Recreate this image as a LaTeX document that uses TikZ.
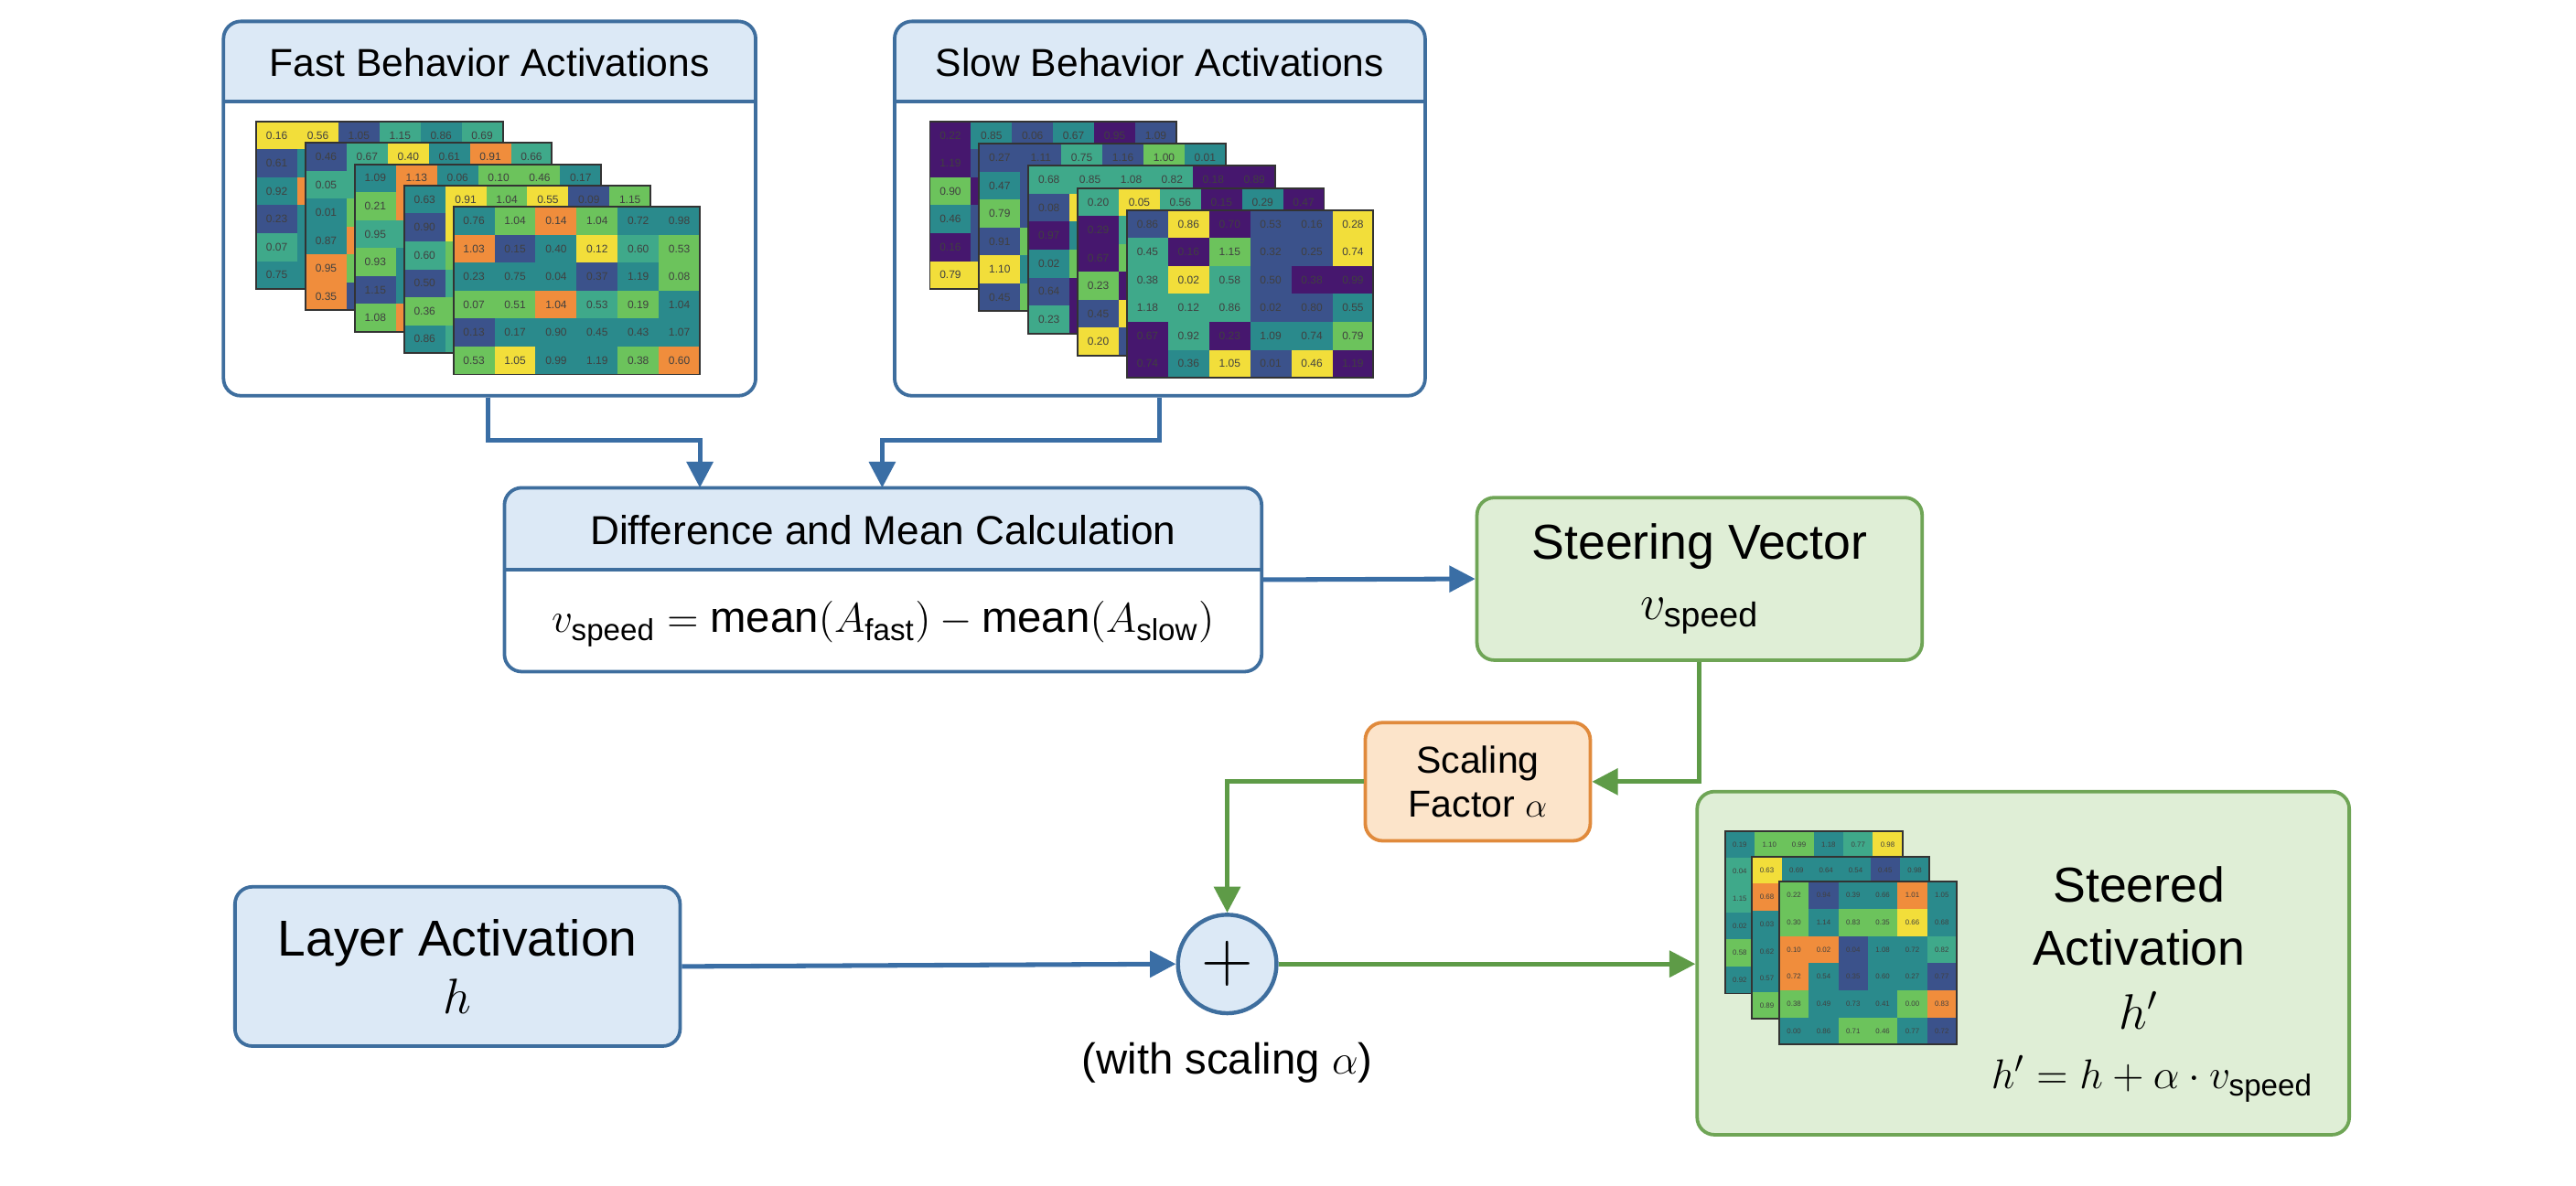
\documentclass[tikz,border=0pt]{standalone}
\usepackage{fontspec}
\setmainfont{Liberation Sans}
\usetikzlibrary{arrows.meta,positioning}

\definecolor{bluebd}{HTML}{3E6E9E}
\definecolor{bluefl}{HTML}{DCE9F6}
\definecolor{greenbd}{HTML}{6FA556}
\definecolor{greenfl}{HTML}{DFEED6}
\definecolor{orangebd}{HTML}{E08A3C}
\definecolor{orangefl}{HTML}{FCE4CA}
\definecolor{arrblue}{HTML}{3A6EA5}
\definecolor{arrgreen}{HTML}{5E9B47}
\definecolor{hmP}{HTML}{46176E}
\definecolor{hmB}{HTML}{3B528B}
\definecolor{hmT}{HTML}{2A8A8C}
\definecolor{hmC}{HTML}{3FA98A}
\definecolor{hmG}{HTML}{6CC35C}
\definecolor{hmY}{HTML}{F2DE3A}
\definecolor{hmO}{HTML}{F08D3C}

\pgfmathdeclarerandomlist{fastlist}{{hmB}{hmT}{hmT}{hmC}{hmC}{hmG}{hmG}{hmY}{hmO}{hmT}}
\pgfmathdeclarerandomlist{slowlist}{{hmP}{hmP}{hmP}{hmB}{hmB}{hmT}{hmC}{hmG}{hmY}}

\tikzset{
  box/.style={draw, rounded corners=6pt, line width=1.2pt},
  bluebox/.style={box, draw=bluebd},
  greenbox/.style={box, draw=greenbd, fill=greenfl},
  orangebox/.style={box, draw=orangebd, fill=orangefl},
  flow/.style={line width=1.6pt, -{Triangle[length=9pt,width=9pt]}},
  cellnum/.style={text=black!75, inner sep=0pt},
}

% one 6x6 heatmap layer: x, y, cell width, cell height, colour list, font size, front layer?
\newcommand\heatlayer[7]{%
  \foreach \r in {0,...,5}{\foreach \c in {0,...,5}{
    \pgfmathrandomitem{\hc}{#5}
    \pgfmathtruncatemacro\hn{rnd*120}
    \pgfmathtruncatemacro\hi{\hn/100}
    \pgfmathtruncatemacro\hf{mod(\hn,100)}
    \pgfmathtruncatemacro\hshow{or(#7==1,or(\r==0,\c==0))}
    \fill[\hc] ({#1+\c*#3},{#2+\r*#4}) rectangle ++(#3,#4);
    \ifnum\hshow=1
    \node[cellnum, font=\fontsize{#6}{#6}\selectfont] at ({#1+(\c+0.5)*#3},{#2+(\r+0.5)*#4})
      {\hi.\ifnum\hf<10 0\fi\hf};
    \fi
  }}
  \draw[black!80, line width=0.6pt] (#1,#2) rectangle ++({6*#3},{6*#4});
}

\begin{document}
\begin{tikzpicture}[x=0.02cm, y=-0.02cm]
\pgfmathsetseed{7}
\fill[white] (0,0) rectangle (1568,722);

% input boxes
\fill[bluefl] (136,62) {[rounded corners=6pt] -- (136,13) -- (460,13)} -- (460,62) -- cycle;
\fill[bluefl] (545,62) {[rounded corners=6pt] -- (545,13) -- (868,13)} -- (868,62) -- cycle;
\draw[bluebd, line width=1.2pt] (136,62) -- (460,62);
\draw[bluebd, line width=1.2pt] (545,62) -- (868,62);
\node[bluebox, minimum width=6.48cm, minimum height=4.56cm] (fast) at (298,127) {};
\node[bluebox, minimum width=6.46cm, minimum height=4.56cm] (slow) at (706,127) {};
\node[font=\fontsize{13.5}{15}\selectfont] (fasttitle) at (298,38) {Fast Behavior Activations};
\node[font=\fontsize{13.5}{15}\selectfont] (slowtitle) at (706,38) {Slow Behavior Activations};

\foreach \k in {0,...,4}{
  \pgfmathtruncatemacro\kf{\k==4}
  \heatlayer{156+30*\k}{74+13*\k}{25}{17}{fastlist}{3.8}{\kf}
  \heatlayer{566+30*\k}{74+13.5*\k}{25}{17}{slowlist}{3.8}{\kf}
}

% difference box
\fill[bluefl] (307,347) {[rounded corners=6pt] -- (307,297) -- (768,297)} -- (768,347) -- cycle;
\draw[bluebd, line width=1.2pt] (307,347) -- (768,347);
\node[bluebox, minimum width=9.22cm, minimum height=2.24cm] (diff) at (537.5,353) {};
\node[font=\fontsize{14}{15}\selectfont] (difftitle) at (537.5,323) {Difference and Mean Calculation};
\node[font=\fontsize{15}{16}\selectfont] (diffeq) at (537.5,380)
  {$v_{\mathrm{speed}}=\mathrm{mean}(A_{\mathrm{fast}})-\mathrm{mean}(A_{\mathrm{slow}})$};

% steering, scaling, layer
\node[greenbox, minimum width=5.42cm, minimum height=1.98cm, align=center,
  font=\fontsize{17}{21}\selectfont] (steer) at (1034.5,352.5) {Steering Vector\\$v_{\mathrm{speed}}$};
\node[orangebox, minimum width=2.74cm, minimum height=1.44cm, align=center,
  font=\fontsize{13}{15}\selectfont] (scale) at (899.5,476) {Scaling\\Factor $\alpha$};
\node[bluebox, fill=bluefl, minimum width=5.42cm, minimum height=1.94cm, align=center,
  font=\fontsize{17.5}{20}\selectfont] (layer) at (278.5,588.5) {Layer Activation\\$h$};
\node[draw=bluebd, fill=bluefl, circle, line width=1.4pt, minimum size=1.2cm, inner sep=0pt,
  font=\fontsize{24}{24}\selectfont] (plus) at (747,587) {$+$};
\node[font=\fontsize{15}{16}\selectfont] (plusnote) at (747,647) {(with scaling $\alpha$)};

% steered output
\node[greenbox, minimum width=7.94cm, minimum height=4.18cm] (out) at (1231.5,586.5) {};
\foreach \k in {0,...,2}{
  \pgfmathtruncatemacro\kf{\k==2}
  \heatlayer{1050+16.5*\k}{506+15.5*\k}{18}{16.5}{fastlist}{2.5}{\kf}
}
\node[align=center, font=\fontsize{17}{22}\selectfont] (outtitle) at (1302,577)
  {Steered\\Activation\\$h'$};
\node[font=\fontsize{15}{16}\selectfont] (outeq) at (1310,657) {$h'=h+\alpha\cdot v_{\mathrm{speed}}$};

% connectors
\draw[flow, arrblue] (fast.south -| 297,0) |- (426,268) -- (426,297);
\draw[flow, arrblue] (slow.south) |- (537,268) -- (537,297);
\draw[flow, arrblue] (diff.east) -- (steer.west);
\draw[flow, arrgreen] (steer.south) |- (scale.east);
\draw[flow, arrgreen] (scale.west) -| (plus.north);
\draw[flow, arrblue] (layer.east) -- (plus.west);
\draw[flow, arrgreen] (plus.east) -- (out.west |- plus.east);
\end{tikzpicture}
\end{document}
